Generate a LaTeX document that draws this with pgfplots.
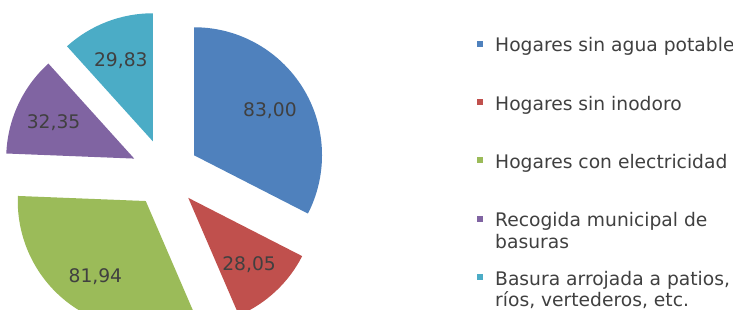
\documentclass[border=0pt]{standalone}
\usepackage{pgfplots}
\usepackage{pgfplotstable}
\pgfplotsset{compat=1.18}
\usepackage{fontspec}
\setmainfont{DejaVu Sans}
\definecolor{c0}{HTML}{4F81BD}
\definecolor{c1}{HTML}{C0504D}
\definecolor{c2}{HTML}{9BBB59}
\definecolor{c3}{HTML}{8064A2}
\definecolor{c4}{HTML}{4BACC6}
\definecolor{txt}{HTML}{404040}
\pgfplotstableread{
value
83.00
28.05
81.94
32.35
29.83
}\piedata
\begin{document}
\begin{tikzpicture}
\fontsize{18.7bp}{22bp}\selectfont
\begin{axis}[
  scale only axis, width=733bp, height=310bp,
  xmin=0, xmax=733, ymin=0, ymax=310,
  hide axis, clip=true,
]
\xdef\total{0}
\pgfplotsforeachungrouped \i in {0,...,4}{%
  \pgfplotstablegetelem{\i}{value}\of\piedata
  \pgfmathsetmacro\tt{\total+\pgfplotsretval}%
  \xdef\total{\tt}%
}
\xdef\sa{90}
\pgfplotsforeachungrouped \i in {0,...,4}{%
  \pgfplotstablegetelem{\i}{value}\of\piedata
  \let\v\pgfplotsretval
  \pgfmathsetmacro\ea{\sa-\v/\total*360}%
  \pgfmathsetmacro\mid{(\sa+\ea)/2}%
  \pgfmathsetmacro\ax{165+34*cos(\mid)}%
  \pgfmathsetmacro\ay{137+34*sin(\mid)}%
  \pgfmathsetmacro\sx{\ax+128*cos(\sa)}%
  \pgfmathsetmacro\sy{\ay+128*sin(\sa)}%
  \pgfmathsetmacro\lx{165+123*cos(\mid)}%
  \pgfmathsetmacro\ly{135+123*sin(\mid)}%
  \edef\tmp{%
    \noexpand\fill[c\i] (axis cs:\ax,\ay) -- (axis cs:\sx,\sy) arc[start angle=\sa, end angle=\ea, radius=128bp] -- cycle;
    \noexpand\node[txt, inner sep=0pt] at (axis cs:\lx,\ly) {\noexpand\pgfmathprintnumber[fixed, fixed zerofill, precision=2, use comma, assume math mode=true]{\v}};
  }%
  \tmp
  \xdef\sa{\ea}%
}
% legend
\fill[c0] (axis cs:477,269.3) rectangle (axis cs:483,263.3);
\node[txt, inner sep=0pt, anchor=base west] at (axis cs:495,258.3) {Hogares sin agua potable};
\fill[c1] (axis cs:477,211) rectangle (axis cs:483,205);
\node[txt, inner sep=0pt, anchor=base west] at (axis cs:495,200) {Hogares sin inodoro};
\fill[c2] (axis cs:477,152.7) rectangle (axis cs:483,146.7);
\node[txt, inner sep=0pt, anchor=base west] at (axis cs:495,141.7) {Hogares con electricidad};
\fill[c3] (axis cs:477,94.3) rectangle (axis cs:483,88.3);
\node[txt, inner sep=0pt, anchor=base west] at (axis cs:495,83.3) {Recogida municipal de};
\node[txt, inner sep=0pt, anchor=base west] at (axis cs:495,61.7) {basuras};
\fill[c4] (axis cs:477,36) rectangle (axis cs:483,30);
\node[txt, inner sep=0pt, anchor=base west] at (axis cs:495,25) {Basura arrojada a patios,};
\node[txt, inner sep=0pt, anchor=base west] at (axis cs:495,3.3) {ríos, vertederos, etc.};
\end{axis}
\pgfresetboundingbox
\path (current axis.south west) rectangle (current axis.north east);
\end{tikzpicture}
\end{document}
